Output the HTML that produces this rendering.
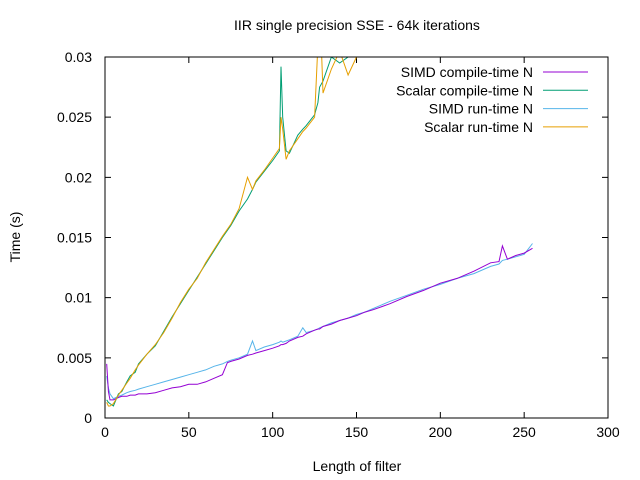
<!DOCTYPE html>
<html><head><meta charset="utf-8"><style>
body{margin:0;background:#fff}
svg{display:block;font-family:"Liberation Sans",sans-serif}
</style></head><body>
<svg id="chart" width="640" height="480" xmlns="http://www.w3.org/2000/svg">
<defs><clipPath id="clip"><rect x="105" y="57" width="503" height="361"/></clipPath></defs>
<rect x="0" y="0" width="640" height="480" fill="#fff"/>
<text x="357" y="30" text-anchor="middle" font-size="14">IIR single precision SSE - 64k iterations</text>
<g id="axes"></g>
<g id="series" clip-path="url(#clip)"></g>
<rect x="105" y="57" width="503" height="361" fill="none" stroke="#000" stroke-width="1"/>
<text x="0" y="0" transform="translate(20,237) rotate(-90)" text-anchor="middle" font-size="14">Time (s)</text>
<text x="357" y="471" text-anchor="middle" font-size="14">Length of filter</text>
<g id="legend"></g>
</svg>
<script>
const xTicks=[0,50,100,150,200,250,300];
const yTicks=[0,0.005,0.01,0.015,0.02,0.025,0.03];
const yTickLabels=["0","0.005","0.01","0.015","0.02","0.025","0.03"];
const seriesNames=["SIMD compile-time N","Scalar compile-time N","SIMD run-time N","Scalar run-time N"];
const lengths=[1,2,3,5,8,10,13,15,18,20,25,30,35,40,45,50,55,60,65,70,73,75,80,85,88,90,95,100,104,105,106,108,110,115,118,120,125,127,128,130,135,140,145,150,155,160,170,180,190,200,210,220,230,235,237,240,245,250,255];
const simdCompile=[0.0045,0.0022,0.0015,0.0015,0.0017,0.0018,0.0018,0.0019,0.0019,0.0020,0.0020,0.0021,0.0023,0.0025,0.0026,0.0028,0.0028,0.0030,0.0033,0.0036,0.0046,0.0047,0.0049,0.0052,0.0053,0.0054,0.0056,0.0058,0.0060,0.0061,0.0061,0.0062,0.0064,0.0067,0.0068,0.0070,0.0073,0.0074,0.0074,0.0076,0.0078,0.0081,0.0083,0.0085,0.0088,0.0090,0.0095,0.0101,0.0106,0.0112,0.0116,0.0122,0.0129,0.0130,0.0143,0.0132,0.0135,0.0137,0.0141];
const scalarCompile=[0.0015,0.0013,0.0012,0.0010,0.0020,0.0022,0.0030,0.0035,0.0038,0.0045,0.0053,0.0060,0.0072,0.0084,0.0095,0.0106,0.0117,0.0128,0.0139,0.0150,0.0156,0.0160,0.0172,0.0182,0.0190,0.0196,0.0205,0.0214,0.0222,0.0292,0.0250,0.0222,0.0220,0.0235,0.0240,0.0243,0.0252,0.0262,0.0275,0.0280,0.0300,0.0295,0.0300,0.0305,0.0310,0.0320,0.0340,0.0360,0.0380,0.0400,0.0420,0.0440,0.0460,0.0470,0.0475,0.0480,0.0490,0.0500,0.0510];
const simdRun=[0.0035,0.0025,0.0020,0.0016,0.0018,0.0019,0.0021,0.0022,0.0023,0.0024,0.0026,0.0028,0.0030,0.0032,0.0034,0.0036,0.0038,0.0040,0.0043,0.0045,0.0047,0.0048,0.0050,0.0053,0.0064,0.0056,0.0059,0.0061,0.0063,0.0064,0.0063,0.0064,0.0065,0.0068,0.0075,0.0071,0.0073,0.0074,0.0075,0.0076,0.0079,0.0081,0.0083,0.0086,0.0088,0.0091,0.0097,0.0102,0.0107,0.0111,0.0116,0.0120,0.0126,0.0128,0.0131,0.0132,0.0134,0.0136,0.0145];
const scalarRun=[0.0013,0.0010,0.0010,0.0012,0.0019,0.0023,0.0029,0.0033,0.0040,0.0044,0.0053,0.0061,0.0071,0.0083,0.0096,0.0107,0.0116,0.0129,0.0140,0.0151,0.0157,0.0161,0.0174,0.0200,0.0190,0.0197,0.0206,0.0216,0.0224,0.0250,0.0240,0.0215,0.0222,0.0232,0.0238,0.0241,0.0250,0.0310,0.0350,0.0270,0.0290,0.0305,0.0285,0.0300,0.0310,0.0320,0.0340,0.0360,0.0380,0.0400,0.0420,0.0440,0.0460,0.0470,0.0475,0.0480,0.0490,0.0500,0.0510];
const colors=["#9400d3","#009e73","#56b4e9","#e69f00"];
const NS="http://www.w3.org/2000/svg";
const L=105,R=608,T=57,B=418;
function xs(v){return L+(v-0)/(300-0)*(R-L);}
function ys(v){return B-(v-0)/(0.03-0)*(B-T);}
function mk(tag,attrs,parent){const e=document.createElementNS(NS,tag);for(const k in attrs)e.setAttribute(k,attrs[k]);parent.appendChild(e);return e;}
const axes=document.getElementById('axes');
xTicks.forEach(t=>{
  const x=xs(t);
  const l=mk('path',{d:`M${x},${B}v-6M${x},${T}v6`,stroke:'#000'},axes);
  
  
  const tx=mk('text',{x:x,y:B+19,'text-anchor':'middle','font-size':14},axes);
  tx.textContent=t;
  
  
});
yTicks.forEach((t,i)=>{
  const y=ys(t);
  const l=mk('path',{d:`M${L},${y}h6M${R},${y}h-6`,stroke:'#000'},axes);
  
  
  const tx=mk('text',{x:92,y:y+5,'text-anchor':'end','font-size':14},axes);
  tx.textContent=yTickLabels[i];
  
  
});
const data=[simdCompile,scalarCompile,simdRun,scalarRun];
const seriesNamesKebab=["simd-compile-time-line","scalar-compile-time-line","simd-run-time-line","scalar-run-time-line"];
const sg=document.getElementById('series');
[2,0,1,3].forEach(i=>{
  const pts=lengths.map((x,j)=>xs(x).toFixed(1)+','+ys(data[i][j]).toFixed(1)).join(' ');
  const p=mk('polyline',{points:pts,fill:'none',stroke:colors[i],'stroke-width':1},sg);
  
  
});
const lg=document.getElementById('legend');
seriesNames.forEach((n,i)=>{
  const y=72+i*18.3;
  const t=mk('text',{x:533,y:y+5,'text-anchor':'end','font-size':14},lg);
  t.textContent=n;
  
  
  const l=mk('line',{x1:543,x2:588,y1:y,y2:y,stroke:colors[i],'stroke-width':1},lg);
  
  
});
</script>
</body></html>
